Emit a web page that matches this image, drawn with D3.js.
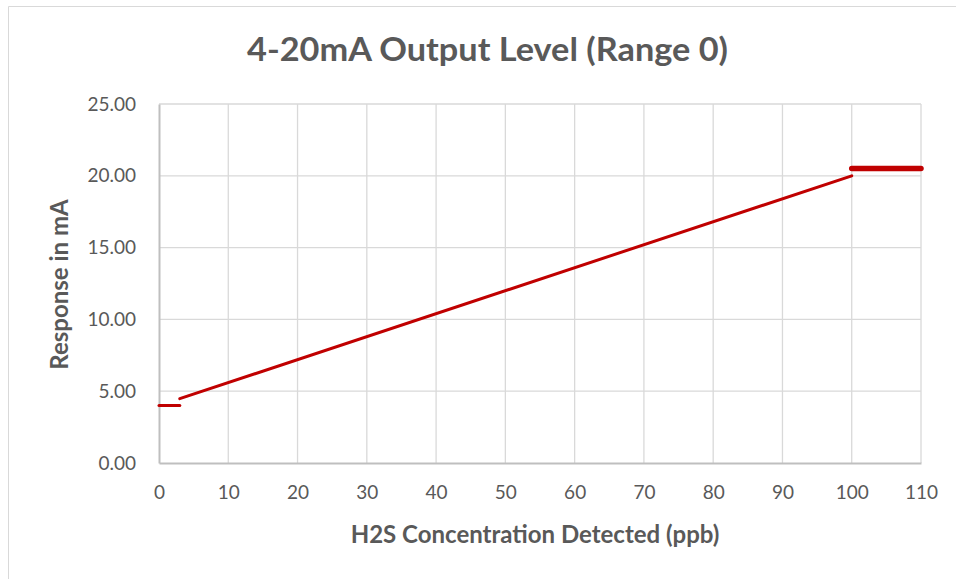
<!DOCTYPE html>
<html lang="en">

<head>
  <meta charset="UTF-8">
  <title>4-20mA Output Level</title>
  <style>
    html,
    body {
      margin: 0;
      background: #fff;
    }

    svg {
      display: block;
    }
  </style>
</head>

<body>
  <svg id="chart" width="956" height="579"></svg>
  <script src="https://cdn.jsdelivr.net/npm/d3@7"></script>
  <script>
    // data
    var xTicks = [0, 10, 20, 30, 40, 50, 60, 70, 80, 90, 100, 110]
    var yTicks = [0, 5, 10, 15, 20, 25]
    // below range: fixed 4 mA
    var lowX = [0, 3]
    var lowY = [4, 4]
    // linear 4-20 mA part
    var rampX = [3, 100]
    var rampY = [4.48, 20]
    // over range
    var highX = [100, 110]
    var highY = [20.5, 20.5]

    var width = 956
    var height = 579
    var grey = '#595959'
    var red = '#c00000'
    var font = 'Lato, Carlito, sans-serif'

    var svg = d3.select('#chart')

    // chart frame
    svg.append('path')
      .attr('d', 'M8.5,' + height + 'V6.5H' + width)
      .attr('fill', 'none')
      .attr('stroke', '#d9d9d9')

    var x = d3.scaleLinear().domain([0, 110]).range([159, 921])
    var y = d3.scaleLinear().domain([0, 25]).range([463, 104])

    // grid
    svg.append('g')
      .attr('stroke', '#d9d9d9')
      .attr('stroke-width', 1.3)
      .selectAll('line.v')
      .data(xTicks.slice(1))
      .join('line')
      .attr('x1', d => x(d))
      .attr('x2', d => x(d))
      .attr('y1', y(25))
      .attr('y2', y(0))

    svg.append('g')
      .attr('stroke', '#d9d9d9')
      .attr('stroke-width', 1.3)
      .selectAll('line')
      .data(yTicks.slice(1))
      .join('line')
      .attr('x1', x(0))
      .attr('x2', x(110))
      .attr('y1', d => y(d))
      .attr('y2', d => y(d))

    // axes
    var xAxis = svg.append('g')
      .attr('transform', `translate(0,${y(0)})`)
      .call(d3.axisBottom(x).tickValues(xTicks).tickSize(0).tickPadding(23))
    var yAxis = svg.append('g')
      .attr('transform', `translate(${x(0)},0)`)
      .call(d3.axisLeft(y).tickValues(yTicks).tickFormat(d3.format('.2f')).tickSize(0).tickPadding(23))

    ;[xAxis, yAxis].forEach(a => {
      a.select('.domain').attr('stroke', '#bfbfbf').attr('stroke-width', 2)
      a.selectAll('text')
        .attr('fill', grey)
        .attr('font-family', font)
        .attr('font-size', 19)
    })

    // series
    var line = d3.line()
      .x(d => x(d[0]))
      .y(d => y(d[1]))

    var segs = [
      { pts: d3.zip(lowX, lowY), w: 3 },
      { pts: d3.zip(rampX, rampY), w: 3 },
      { pts: d3.zip(highX, highY), w: 5.5 }
    ]

    svg.append('g')
      .selectAll('path')
      .data(segs)
      .join('path')
      .attr('d', d => line(d.pts))
      .attr('fill', 'none')
      .attr('stroke', red)
      .attr('stroke-width', d => d.w)
      .attr('stroke-linecap', 'round')

    // titles
    svg.append('text')
      .attr('x', 487.5)
      .attr('y', 61)
      .attr('text-anchor', 'middle')
      .attr('font-family', font)
      .attr('font-weight', 'bold')
      .attr('font-size', 33)
      .attr('textLength', 481)
      .attr('lengthAdjust', 'spacingAndGlyphs')
      .attr('fill', grey)
      .text('4-20mA Output Level (Range 0)')

    svg.append('text')
      .attr('x', 535)
      .attr('y', 543)
      .attr('text-anchor', 'middle')
      .attr('font-family', font)
      .attr('font-weight', 'bold')
      .attr('font-size', 24)
      .attr('fill', grey)
      .text('H2S Concentration Detected (ppb)')

    svg.append('text')
      .attr('transform', 'translate(68,284.5) rotate(-90)')
      .attr('text-anchor', 'middle')
      .attr('font-family', font)
      .attr('font-weight', 'bold')
      .attr('font-size', 24)
      .attr('fill', grey)
      .text('Response in mA')
  </script>
</body>

</html>
